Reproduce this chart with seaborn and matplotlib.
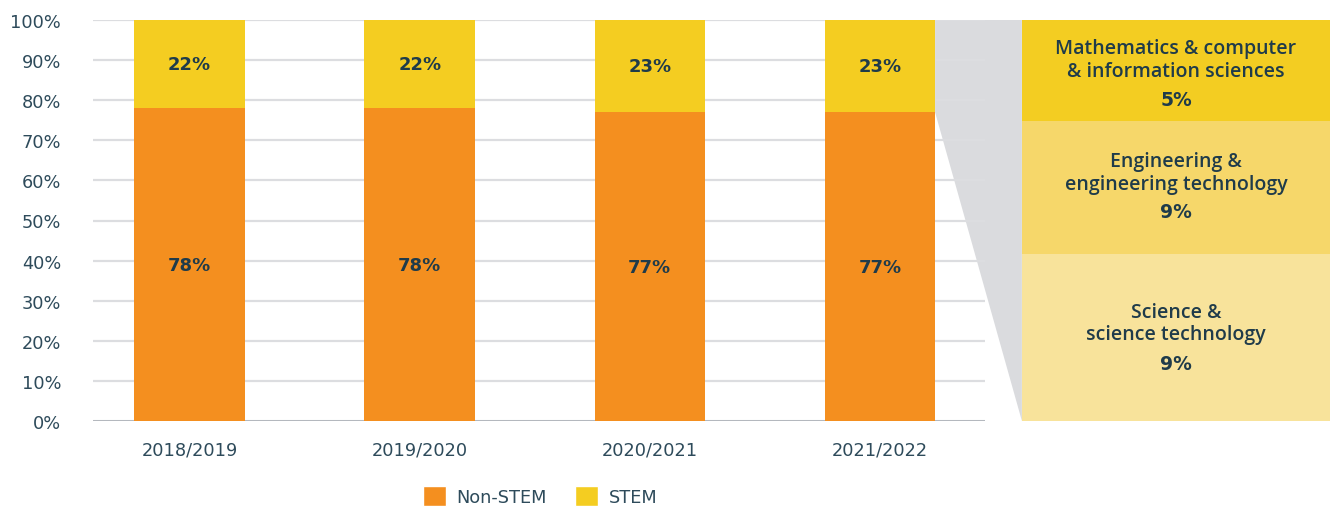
import matplotlib
matplotlib.use("Agg")
import matplotlib.pyplot as plt
from matplotlib.patches import Patch, Polygon, Rectangle
import pandas as pd
import seaborn as sns

# Share of students by field, per academic year (percent)
years = ["2018/2019", "2019/2020", "2020/2021", "2021/2022"]
non_stem = [78, 78, 77, 77]
stem = [22, 22, 23, 23]

# STEM breakdown for the latest year (percent)
stem_fields = [
    "Mathematics & computer\n& information sciences",
    "Engineering &\nengineering technology",
    "Science &\nscience technology",
]
stem_field_shares = [5, 9, 9]

ORANGE = "#F48F1F"
YELLOW = "#F4CD21"
PANEL_COLORS = ["#F3CD22", "#F6D76A", "#F8E39B"]
TEXT = "#1F3B4A"
TICK = "#2E4B5B"

sns.set_theme(style="white")
plt.rcParams["font.family"] = ["DejaVu Sans"]

df = pd.DataFrame({"year": years, "non_stem": non_stem, "stem": stem})
df["total"] = df["non_stem"] + df["stem"]

fig = plt.figure(figsize=(13.32, 5.10), dpi=100)
ax = fig.add_axes([93 / 1332, 1 - 422 / 510, (985 - 93) / 1332, (422 - 21) / 510])
ax.set_facecolor("none")

bar_w = 0.48
sns.barplot(data=df, x="year", y="total", color=YELLOW, width=bar_w,
            saturation=1, linewidth=0, ax=ax, zorder=3)
sns.barplot(data=df, x="year", y="non_stem", color=ORANGE, width=bar_w,
            saturation=1, linewidth=0, ax=ax, zorder=3)

ax.set_xlim(-0.42, 3.457)
ax.set_ylim(0, 100)
ax.set_yticks(range(0, 101, 10))
ax.set_yticklabels([f"{v}%" for v in range(0, 101, 10)])
ax.set_xlabel("")
ax.set_ylabel("")
for s in ax.spines.values():
    s.set_visible(False)
ax.tick_params(axis="y", length=0, pad=23, labelsize=12.8, labelcolor=TICK)
ax.tick_params(axis="x", length=0, pad=14, labelsize=12.8, labelcolor=TICK)

# horizontal gridlines, baseline slightly darker
for v in range(10, 101, 10):
    ax.axhline(v, color="#DCDDE0", lw=1.6, zorder=1)
ax.axhline(0, color="#B4B8BE", lw=2.2, zorder=1)

# value labels inside the stacked segments
for i, row in df.iterrows():
    ax.text(i, row["non_stem"] / 2, f"{row['non_stem']}%", ha="center", va="center",
            fontsize=13, fontweight="bold", color=TEXT, zorder=4)
    ax.text(i, row["non_stem"] + row["stem"] / 2, f"{row['stem']}%", ha="center",
            va="center", fontsize=13, fontweight="bold", color=TEXT, zorder=4)

# grey connector from the last STEM segment to the breakdown panel
last = len(df) - 1
x_right = last + bar_w / 2
x_panel = (1022 - 190) / 230
connector = Polygon(
    [(x_right, df["total"].iloc[last]), (x_panel, df["total"].iloc[last]),
     (x_panel, 0), (x_right, df["non_stem"].iloc[last])],
    closed=True, facecolor="#DADBDE", edgecolor="none", zorder=0.5, clip_on=False)
ax.add_patch(connector)

# breakdown panel
pax = fig.add_axes([1022 / 1332, 1 - 422 / 510, (1330 - 1022) / 1332, (422 - 21) / 510])
pax.set_xlim(0, 1)
pax.set_ylim(0, 1)
pax.axis("off")


def frac(py):
    return (422 - py) / 401


bounds = [(21, 122), (122, 255), (255, 422)]
name_y = [60.5, 173.5, 324]
pct_y = [100, 213, 365]
for (top, bot), color, name, share, ny, py in zip(bounds, PANEL_COLORS, stem_fields,
                                                  stem_field_shares, name_y, pct_y):
    pax.add_patch(Rectangle((0, frac(bot)), 1, frac(top) - frac(bot),
                            facecolor=color, edgecolor="none"))
    pax.text(0.5, frac(ny), name, ha="center", va="center", fontsize=14,
             fontfamily="Open Sans", fontweight="semibold",
             color=TEXT, linespacing=1.15)
    pax.text(0.5, frac(py), f"{share}%", ha="center", va="center", fontsize=13.5,
             fontweight="bold", color=TEXT)

handles = [Patch(facecolor=ORANGE, label="Non-STEM"), Patch(facecolor=YELLOW, label="STEM")]
leg = fig.legend(handles=handles, loc="center", bbox_to_anchor=(540 / 1332, 1 - 497 / 510),
                 ncol=2, frameon=False, fontsize=12.8, handlelength=1.3, handleheight=1.3,
                 columnspacing=1.6, handletextpad=0.6)
for t in leg.get_texts():
    t.set_color(TICK)

fig.savefig("out.png", dpi=100)
